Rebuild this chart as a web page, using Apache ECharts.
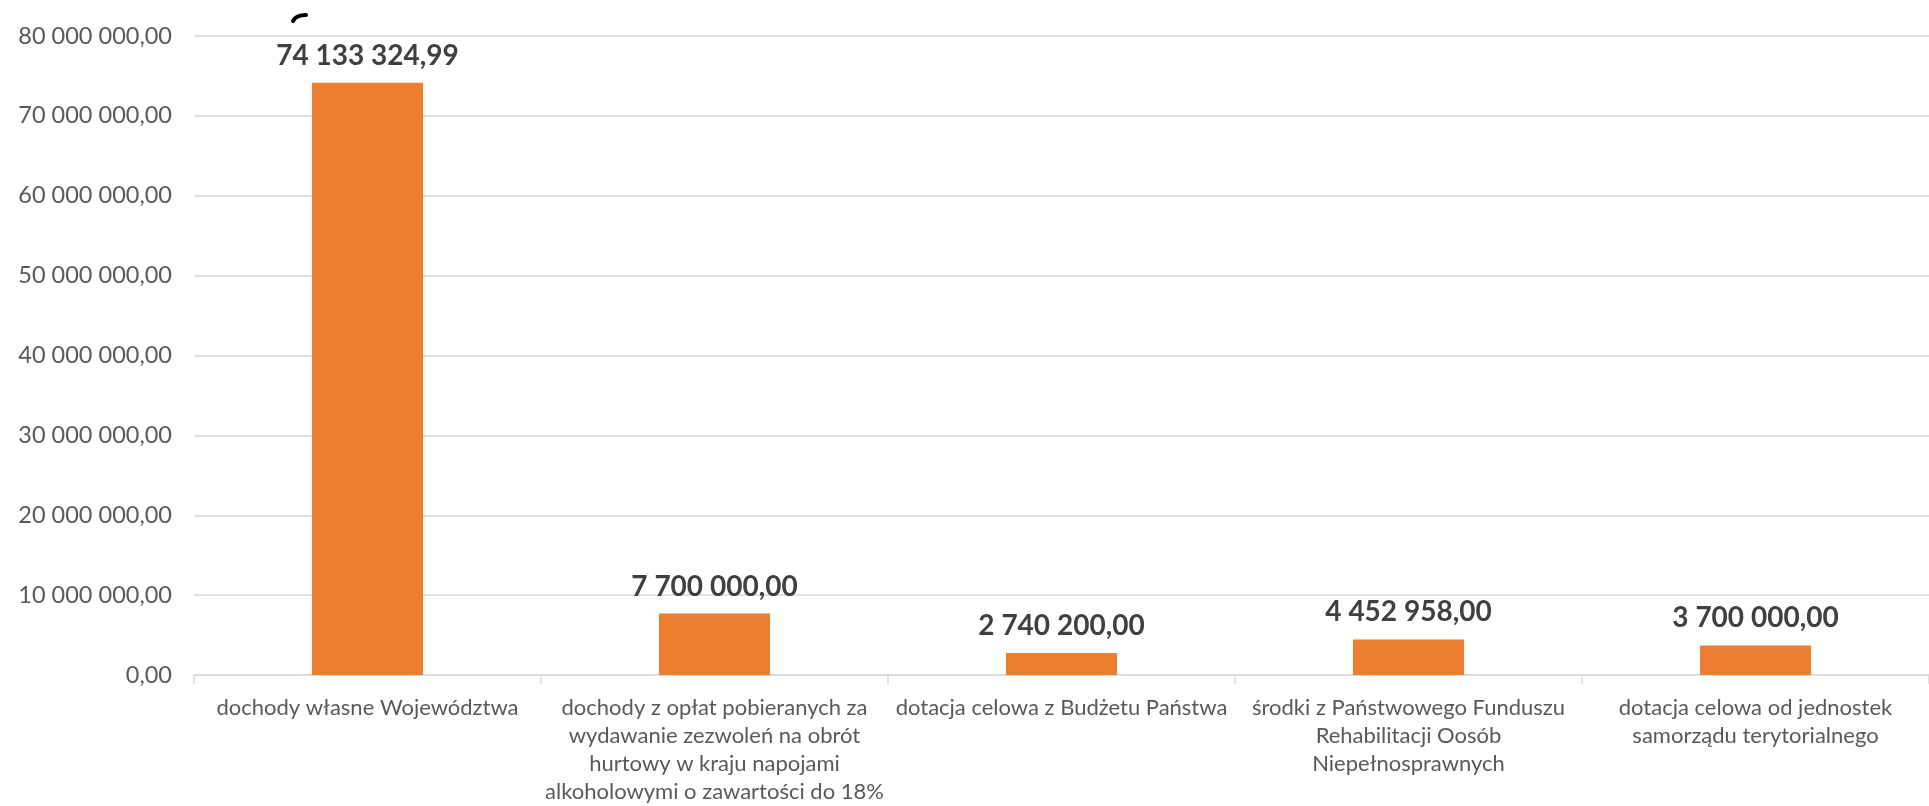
<!DOCTYPE html>
<html>
<head>
<meta charset="utf-8">
<script src="https://cdn.jsdelivr.net/npm/echarts@6/dist/echarts.min.js"></script>
<style>
html,body{margin:0;padding:0;background:#fff;}
#c{width:1929px;height:806px;}
</style>
</head>
<body>
<div id="c"></div>
<script>
const categories = [
  "dochody własne Województwa",
  "dochody z opłat pobieranych za\nwydawanie zezwoleń na obrót\nhurtowy w kraju napojami\nalkoholowymi o zawartości do 18%",
  "dotacja celowa z Budżetu Państwa",
  "środki z Państwowego Funduszu\nRehabilitacji Oosób\nNiepełnosprawnych",
  "dotacja celowa od jednostek\nsamorządu terytorialnego"
];
const values = [74133324.99, 7700000, 2740200, 4452958, 3700000];
const yMin = 0, yMax = 80000000, yStep = 10000000;

function fmtPL(v) {
  const s = Number(v).toFixed(2);
  let [ip, dp] = s.split('.');
  ip = ip.replace(/\B(?=(\d{3})+(?!\d))/g, ' ');
  return ip + ',' + dp;
}

const chart = echarts.init(document.getElementById('c'), null, {renderer: 'canvas'});
const FONT = 'Lato, "Open Sans", sans-serif';
chart.setOption({
  animation: false,
  backgroundColor: '#ffffff',
  grid: {left: 194, right: 0, top: 36, bottom: 129, containLabel: false},
  xAxis: {
    type: 'category',
    data: categories,
    axisLine: {show: true, lineStyle: {color: '#d9d9d9', width: 1.5}},
    axisTick: {show: true, length: 9, lineStyle: {color: '#d9d9d9', width: 1.5}},
    axisLabel: {
      interval: 0,
      color: '#595959',
      fontFamily: FONT,
      fontSize: 22,
      lineHeight: 28,
      margin: 19
    }
  },
  yAxis: {
    type: 'value',
    min: yMin, max: yMax, interval: yStep,
    axisLine: {show: false},
    axisTick: {show: false},
    splitLine: {lineStyle: {color: '#d9d9d9', width: 1.5}},
    axisLabel: {
      color: '#595959',
      fontFamily: FONT,
      fontSize: 23.5,
      margin: 22,
      formatter: v => fmtPL(v)
    }
  },
  series: [{
    type: 'bar',
    data: values,
    barWidth: '32%',
    itemStyle: {color: '#ed7d31'},
    label: {
      show: true,
      position: 'top',
      distance: 13,
      color: '#404040',
      fontFamily: FONT,
      fontWeight: 'bold',
      fontSize: 28,
      formatter: p => fmtPL(p.value)
    }
  }],
  graphic: [{
    type: 'bezierCurve',
    shape: {x1: 293, y1: 21, x2: 306, y2: 15, cpx1: 296, cpy1: 15},
    style: {stroke: '#000', lineWidth: 4, lineCap: 'round', fill: null}
  }]
});
</script>
</body>
</html>
